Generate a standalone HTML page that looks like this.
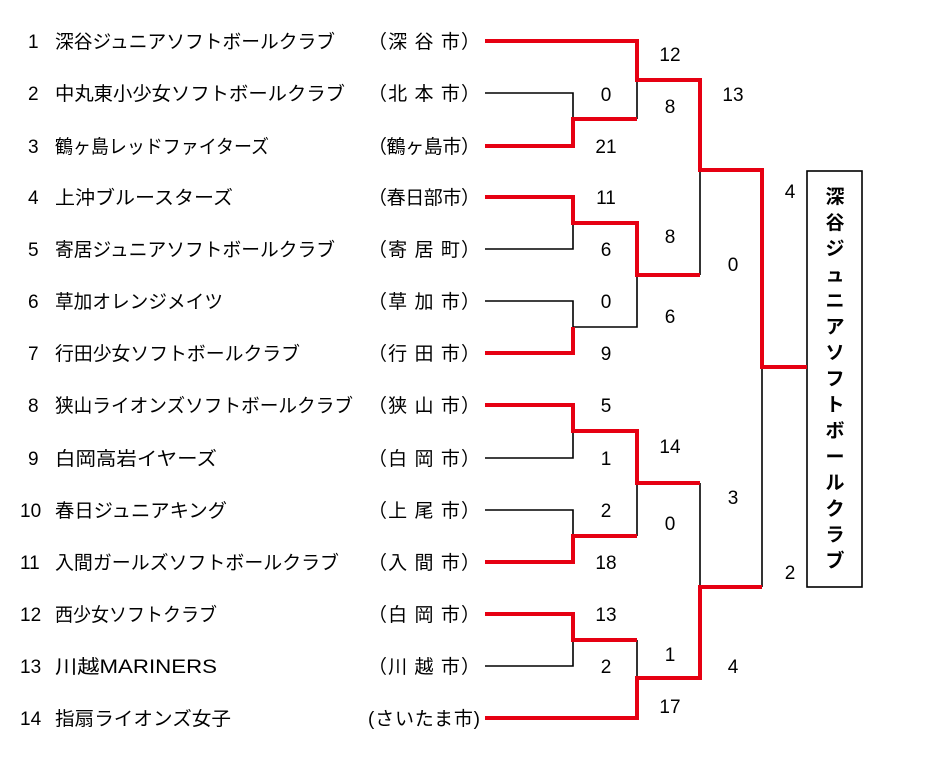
<!DOCTYPE html>
<html><head><meta charset="utf-8"><style>
body{margin:0;background:#fff;}
svg{display:block;font-family:"Liberation Sans","Noto Sans CJK JP",sans-serif;}
text{font-size:19px;fill:#000;}
</style></head><body>
<svg width="927" height="768" xmlns="http://www.w3.org/2000/svg">
<g>
<text x="28" y="48">1</text><text x="55" y="48" textLength="280" lengthAdjust="spacingAndGlyphs">深谷ジュニアソフトボールクラブ</text>
<text x="28" y="100">2</text><text x="55" y="100" textLength="290" lengthAdjust="spacingAndGlyphs">中丸東小少女ソフトボールクラブ</text>
<text x="28" y="153">3</text><text x="55" y="153" textLength="214" lengthAdjust="spacingAndGlyphs">鶴ヶ島レッドファイターズ</text>
<text x="28" y="204">4</text><text x="55" y="204" textLength="178" lengthAdjust="spacingAndGlyphs">上沖ブルースターズ</text>
<text x="28" y="256">5</text><text x="55" y="256" textLength="280" lengthAdjust="spacingAndGlyphs">寄居ジュニアソフトボールクラブ</text>
<text x="28" y="308">6</text><text x="55" y="308" textLength="168" lengthAdjust="spacingAndGlyphs">草加オレンジメイツ</text>
<text x="28" y="360">7</text><text x="55" y="360" textLength="245" lengthAdjust="spacingAndGlyphs">行田少女ソフトボールクラブ</text>
<text x="28" y="412">8</text><text x="55" y="412" textLength="298" lengthAdjust="spacingAndGlyphs">狭山ライオンズソフトボールクラブ</text>
<text x="28" y="465">9</text><text x="55" y="465" textLength="162" lengthAdjust="spacingAndGlyphs">白岡高岩イヤーズ</text>
<text x="20" y="517">10</text><text x="55" y="517" textLength="172" lengthAdjust="spacingAndGlyphs">春日ジュニアキング</text>
<text x="20" y="569">11</text><text x="55" y="569" textLength="284" lengthAdjust="spacingAndGlyphs">入間ガールズソフトボールクラブ</text>
<text x="20" y="621">12</text><text x="55" y="621" textLength="162" lengthAdjust="spacingAndGlyphs">西少女ソフトクラブ</text>
<text x="20" y="673">13</text><text x="55" y="673" textLength="162" lengthAdjust="spacingAndGlyphs">川越MARINERS</text>
<text x="20" y="725">14</text><text x="55" y="725" textLength="176" lengthAdjust="spacingAndGlyphs">指扇ライオンズ女子</text>
</g>
<g>
<text x="368" y="48" textLength="112" lengthAdjust="spacing">（深 谷 市）</text>
<text x="368" y="100" textLength="112" lengthAdjust="spacing">（北 本 市）</text>
<text x="368" y="153" textLength="112" lengthAdjust="spacing">（鶴ヶ島市）</text>
<text x="368" y="204" textLength="112" lengthAdjust="spacing">（春日部市）</text>
<text x="368" y="256" textLength="112" lengthAdjust="spacing">（寄 居 町）</text>
<text x="368" y="308" textLength="112" lengthAdjust="spacing">（草 加 市）</text>
<text x="368" y="360" textLength="112" lengthAdjust="spacing">（行 田 市）</text>
<text x="368" y="412" textLength="112" lengthAdjust="spacing">（狭 山 市）</text>
<text x="368" y="465" textLength="112" lengthAdjust="spacing">（白 岡 市）</text>
<text x="368" y="517" textLength="112" lengthAdjust="spacing">（上 尾 市）</text>
<text x="368" y="569" textLength="112" lengthAdjust="spacing">（入 間 市）</text>
<text x="368" y="621" textLength="112" lengthAdjust="spacing">（白 岡 市）</text>
<text x="368" y="673" textLength="112" lengthAdjust="spacing">（川 越 市）</text>
<text x="368" y="725" textLength="112" lengthAdjust="spacing">(さいたま市)</text>
</g>
<g fill="none" stroke="#000" stroke-width="1.6">
<path d="M485 93H573V119"/>
<path d="M637 80V119"/>
<path d="M485 249H573V223"/>
<path d="M485 301H573V327H637V275"/>
<path d="M700 170V275"/>
<path d="M762 367V587"/>
<path d="M485 458H573V431"/>
<path d="M485 510H573V536"/>
<path d="M637 483V536"/>
<path d="M700 483V587"/>
<path d="M485 666H573V640"/>
<path d="M637 640V678"/>
<rect x="807" y="171" width="55" height="416"/>
</g>
<g fill="none" stroke="#e60012" stroke-width="4" stroke-linejoin="miter">
<path d="M485 41H637V80H700V170H762V367H807"/>
<path d="M485 146H573V119H637"/>
<path d="M485 197H573V223H637V275H700"/>
<path d="M485 353H573V327"/>
<path d="M485 405H573V431H637V483H700"/>
<path d="M485 562H573V536H637"/>
<path d="M485 614H573V640H637"/>
<path d="M485 718H637V678H700V587H762"/>
</g>
<g text-anchor="middle">
<text x="670" y="61">12</text><text x="606" y="101">0</text><text x="670" y="113">8</text><text x="606" y="153">21</text>
<text x="733" y="101">13</text><text x="606" y="204">11</text><text x="606" y="256">6</text><text x="670" y="243">8</text>
<text x="733" y="271">0</text><text x="606" y="308">0</text><text x="670" y="323">6</text><text x="606" y="360">9</text>
<text x="790" y="198">4</text><text x="790" y="579">2</text><text x="606" y="412">5</text><text x="606" y="465">1</text>
<text x="670" y="453">14</text><text x="733" y="504">3</text><text x="606" y="517">2</text><text x="606" y="569">18</text>
<text x="670" y="530">0</text><text x="606" y="621">13</text><text x="606" y="673">2</text><text x="670" y="661">1</text>
<text x="733" y="673">4</text><text x="670" y="713">17</text>
</g>
<g text-anchor="middle" font-weight="bold" style="font-size:19px">
<text x="835" y="203">深</text><text x="835" y="229">谷</text><text x="835" y="255">ジ</text><text x="835" y="281">ュ</text>
<text x="835" y="307">ニ</text><text x="835" y="333">ア</text><text x="835" y="359">ソ</text><text x="835" y="385">フ</text>
<text x="835" y="411">ト</text><text x="835" y="437">ボ</text><text x="835" y="463">ー</text><text x="835" y="489">ル</text>
<text x="835" y="515">ク</text><text x="835" y="541">ラ</text><text x="835" y="567">ブ</text>
</g>
</svg>
</body></html>
